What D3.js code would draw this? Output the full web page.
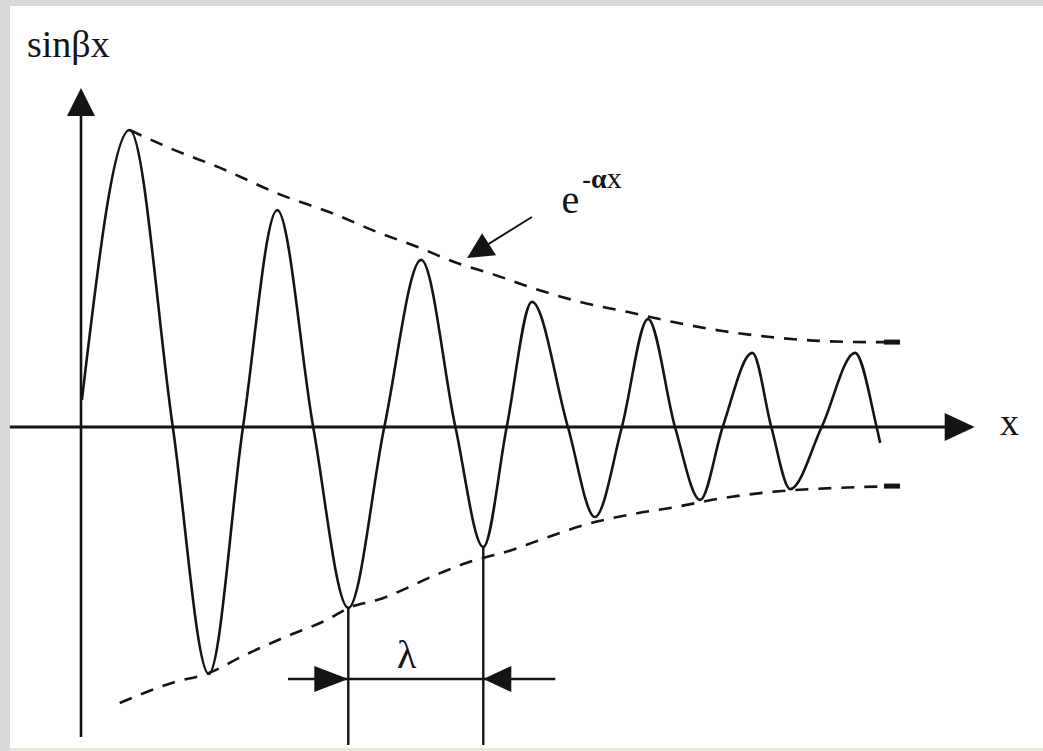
<!DOCTYPE html>
<html>
<head>
<meta charset="utf-8">
<script src="https://cdn.jsdelivr.net/npm/d3@7"></script>
<style>
  body { margin: 0; background: #fff; }
  svg { display: block; }
  .lbl { font-family: "Liberation Serif", "Times New Roman", "DejaVu Serif", serif; }
</style>
</head>
<body>
<div id="chart"></div>
<script>
// damped wave: turning points and zero crossings
var waveX = [0.01, 0.54, 1.02, 1.42, 1.80, 2.18, 2.58, 2.97, 3.37, 3.78, 4.16, 4.47, 4.73, 5.01,
             5.41, 5.71, 6.01, 6.30, 6.60, 6.88, 7.13, 7.46, 7.67, 7.88, 8.23, 8.60, 8.84, 8.88];
var waveY = [0.09, 0.99, 0, -0.823, 0, 0.723, 0, -0.603, 0, 0.557, 0, -0.40, 0, 0.417,
             0, -0.30, 0, 0.36, 0, -0.243, 0, 0.247, 0, -0.207, 0, 0.247, 0, -0.053];

// upper envelope e^-ax (dashed)
var upperX = [0.54, 1.04, 1.52, 2.23, 2.79, 3.29, 3.74, 4.21, 4.54, 5.02, 5.54, 6.08, 6.58, 7.13, 7.66, 8.21, 8.77, 9.10];
var upperY = [0.99, 0.923, 0.867, 0.773, 0.713, 0.65, 0.60, 0.543, 0.513, 0.463, 0.417, 0.383, 0.35, 0.32, 0.30, 0.287, 0.283, 0.283];

// lower envelope (dashed)
var lowerX = [0.43, 1.01, 1.42, 1.82, 2.27, 2.77, 2.97, 3.29, 3.99, 4.28, 4.79, 5.04, 5.32, 5.71, 6.08, 6.60, 7.13, 7.66, 8.40, 9.10];
var lowerY = [-0.92, -0.853, -0.82, -0.76, -0.70, -0.637, -0.603, -0.577, -0.487, -0.453, -0.41, -0.383, -0.353, -0.317, -0.293, -0.267, -0.237, -0.217, -0.203, -0.197];

// axis extents and annotation anchors (data units)
var xAxisFrom = -0.79, xAxisTip = 9.93;
var yAxisFrom = -1.033, yAxisTip = 1.13;
var lambdaTroughs = [7, 11];   // indices into wave points
var lambdaBottom = -1.06, lambdaLineY = -0.84, lambdaFrom = 2.30, lambdaTo = 5.27;
var envArrowFrom = [5.01, 0.70], envArrowTip = [4.29, 0.563];

var labels = { yTitle: "sinβx", xTitle: "x", lambda: "λ", env: "e", envSup1: "-", envSup2: "α", envSup3: "x" };

var W = 1043, H = 751;

var x = d3.scaleLinear().domain([0, 10]).range([81, 981]);
var y = d3.scaleLinear().domain([-1, 1]).range([727, 127]);

var svg = d3.select("#chart").append("svg")
    .attr("width", W)
    .attr("height", H);

// page frame like the scanned picture
svg.append("rect").attr("width", W).attr("height", H).attr("fill", "#d9d9d9");
svg.append("rect").attr("x", 10).attr("y", 6).attr("width", W - 10).attr("height", H - 9).attr("fill", "#fff");
svg.append("rect").attr("x", 10).attr("y", H - 3).attr("width", W - 10).attr("height", 3).attr("fill", "#e3e9da");

var ink = "#141414";

// arrow head: tip point, direction from another point, length, half width (px)
function arrowHead(tip, from, len, half) {
    var dx = tip[0] - from[0], dy = tip[1] - from[1];
    var d = Math.sqrt(dx * dx + dy * dy);
    var ux = dx / d, uy = dy / d;
    var bx = tip[0] - ux * len, by = tip[1] - uy * len;
    return [tip, [bx - uy * half, by + ux * half], [bx + uy * half, by - ux * half]];
}
function drawHead(pts) {
    svg.append("path")
        .attr("d", "M" + pts.map(function (p) { return p.join(","); }).join("L") + "Z")
        .attr("fill", ink);
}

// x axis
var xTipPx = [x(xAxisTip), y(0)];
svg.append("line")
    .attr("x1", x(xAxisFrom)).attr("y1", y(0))
    .attr("x2", x(xAxisTip) - 28).attr("y2", y(0))
    .attr("stroke", ink).attr("stroke-width", 2.8);
drawHead(arrowHead(xTipPx, [x(xAxisFrom), y(0)], 30, 14));

// y axis
var yTipPx = [x(0), y(yAxisTip)];
svg.append("line")
    .attr("x1", x(0)).attr("y1", y(yAxisFrom))
    .attr("x2", x(0)).attr("y2", y(yAxisTip) + 26)
    .attr("stroke", ink).attr("stroke-width", 2.6);
drawHead(arrowHead(yTipPx, [x(0), y(yAxisFrom)], 28, 14));

// the wave
var wave = waveX.map(function (v, i) { return [v, waveY[i]]; });
var line = d3.line()
    .x(function (d) { return x(d[0]); })
    .y(function (d) { return y(d[1]); })
    .curve(d3.curveMonotoneX);

svg.append("path")
    .datum(wave)
    .attr("d", line)
    .attr("fill", "none")
    .attr("stroke", ink)
    .attr("stroke-width", 2.6);

// envelopes
[[upperX, upperY], [lowerX, lowerY]].forEach(function (e) {
    var pts = e[0].map(function (v, i) { return [v, e[1][i]]; });
    svg.append("path")
        .datum(pts)
        .attr("d", line)
        .attr("fill", "none")
        .attr("stroke", ink)
        .attr("stroke-width", 2.6)
        .attr("stroke-dasharray", "13,10");
    // heavy end dash
    var n = pts.length;
    svg.append("line")
        .attr("x1", x(pts[n - 1][0]) - 16).attr("y1", y(pts[n - 1][1]))
        .attr("x2", x(pts[n - 1][0])).attr("y2", y(pts[n - 1][1]))
        .attr("stroke", ink).attr("stroke-width", 5);
});

// wavelength marker
var t1 = wave[lambdaTroughs[0]], t2 = wave[lambdaTroughs[1]];
[t1, t2].forEach(function (t) {
    svg.append("line")
        .attr("x1", x(t[0])).attr("y1", y(t[1]))
        .attr("x2", x(t[0])).attr("y2", y(lambdaBottom))
        .attr("stroke", ink).attr("stroke-width", 2.4);
});
svg.append("line")
    .attr("x1", x(lambdaFrom)).attr("y1", y(lambdaLineY))
    .attr("x2", x(lambdaTo)).attr("y2", y(lambdaLineY))
    .attr("stroke", ink).attr("stroke-width", 2.4);
drawHead(arrowHead([x(t1[0]), y(lambdaLineY)], [x(lambdaFrom), y(lambdaLineY)], 34, 13));
drawHead(arrowHead([x(t2[0]), y(lambdaLineY)], [x(lambdaTo), y(lambdaLineY)], 28, 13));

// arrow pointing at the envelope
svg.append("line")
    .attr("x1", x(envArrowFrom[0])).attr("y1", y(envArrowFrom[1]))
    .attr("x2", x(envArrowTip[0]) + 18).attr("y2", y(envArrowTip[1]) - 12)
    .attr("stroke", ink).attr("stroke-width", 2);
drawHead(arrowHead([x(envArrowTip[0]), y(envArrowTip[1])], [x(envArrowFrom[0]), y(envArrowFrom[1])], 26, 13));

// labels
svg.append("text")
    .attr("class", "lbl")
    .attr("x", x(-0.6)).attr("y", y(1.233))
    .attr("font-size", 38)
    .attr("fill", ink)
    .text(labels.yTitle);

svg.append("text")
    .attr("class", "lbl")
    .attr("x", x(10.21)).attr("y", y(-0.027))
    .attr("font-size", 38)
    .attr("fill", ink)
    .text(labels.xTitle);

svg.append("text")
    .attr("class", "lbl")
    .attr("x", x(3.62)).attr("y", y(-0.803))
    .attr("text-anchor", "middle")
    .attr("font-size", 40)
    .attr("fill", ink)
    .text(labels.lambda);

var env = svg.append("text")
    .attr("class", "lbl")
    .attr("x", x(5.34)).attr("y", y(0.713))
    .attr("font-size", 40)
    .attr("fill", ink);
env.append("tspan").text(labels.env);
env.append("tspan").attr("dy", -25).attr("dx", 3).attr("font-size", 26).attr("font-weight", "bold").text(labels.envSup1);
env.append("tspan").attr("font-size", 28).attr("font-weight", "bold").text(labels.envSup2);
env.append("tspan").attr("font-size", 30).text(labels.envSup3);
</script>
</body>
</html>
